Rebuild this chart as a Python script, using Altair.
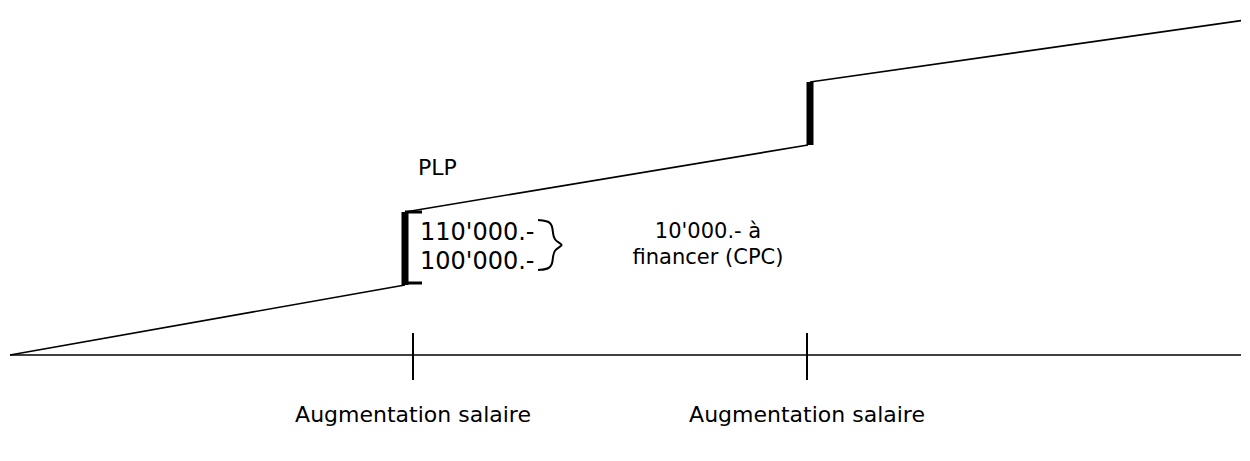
import altair as alt
import pandas as pd

# Schematic "capital" curve (x = time units, y = capital units above the time axis)
seg_x0 = [10, 405, 810]
seg_y0 = [0, 143, 273]
seg_x1 = [405, 808, 1245]
seg_y1 = [70, 210, 335]

# jumps of capital at each salary raise
jump_x = [405, 810]
jump_lo = [70, 210]
jump_hi = [143, 273]

# bracket feet around the first jump
foot_x0 = [405, 405]
foot_x1 = [422, 422]
foot_y = [143, 72]

# time axis and salary-raise ticks
axis_x0 = [10]
axis_x1 = [1245]
tick_x = [413, 807]
tick_lo = [-25, -25]
tick_hi = [22, 22]

# curly brace next to the amounts
brace_x = [538, 550, 553, 553, 566, 553, 553, 550, 538]
brace_y = [135, 134, 127, 114, 110, 106, 93, 86, 85]
brace_order = list(range(len(brace_x)))

# labels
amount_labels = ["110'000.-", "100'000.-"]
amount_x = [420, 420]
amount_y = [122, 93]

note_labels = ["10'000.- à", "financer (CPC)"]
note_x = [708, 708]
note_y = [123, 97]

plp_label = ["PLP"]
plp_x = [418]
plp_y = [187]

raise_labels = ["Augmentation salaire", "Augmentation salaire"]
raise_x = [413, 807]
raise_y = [-60, -60]

FONT = "DejaVu Sans"
xs = alt.Scale(domain=[8, 1241], nice=False, zero=False)
ys = alt.Scale(domain=[-97, 347], nice=False, zero=False)
X = lambda f: alt.X(f, type="quantitative", scale=xs, axis=None)
Y = lambda f: alt.Y(f, type="quantitative", scale=ys, axis=None)

seg_df = pd.DataFrame({"x0": seg_x0, "y0": seg_y0, "x1": seg_x1, "y1": seg_y1})
segs = alt.Chart(seg_df).mark_rule(color="black", strokeWidth=1.6).encode(
    x=X("x0"), y=Y("y0"), x2="x1", y2="y1")

jump_df = pd.DataFrame({"x": jump_x, "lo": jump_lo, "hi": jump_hi})
jumps = alt.Chart(jump_df).mark_rule(color="black", strokeWidth=7).encode(
    x=X("x"), y=Y("lo"), y2="hi")

foot_df = pd.DataFrame({"x0": foot_x0, "x1": foot_x1, "y": foot_y})
feet = alt.Chart(foot_df).mark_rule(color="black", strokeWidth=3).encode(
    x=X("x0"), x2="x1", y=Y("y"))

axis_df = pd.DataFrame({"x0": axis_x0, "x1": axis_x1, "y": [0]})
axis = alt.Chart(axis_df).mark_rule(color="black", strokeWidth=1.6).encode(
    x=X("x0"), x2="x1", y=Y("y"))

tick_df = pd.DataFrame({"x": tick_x, "lo": tick_lo, "hi": tick_hi})
ticks = alt.Chart(tick_df).mark_rule(color="black", strokeWidth=2).encode(
    x=X("x"), y=Y("lo"), y2="hi")

brace_df = pd.DataFrame({"x": brace_x, "y": brace_y, "o": brace_order})
brace = alt.Chart(brace_df).mark_line(color="black", strokeWidth=2, interpolate="basis").encode(
    x=X("x"), y=Y("y"), order="o")

amt_df = pd.DataFrame({"t": amount_labels, "x": amount_x, "y": amount_y})
amounts = alt.Chart(amt_df).mark_text(align="left", baseline="middle", font=FONT, fontSize=24,
                                       color="black").encode(x=X("x"), y=Y("y"), text="t")

note_df = pd.DataFrame({"t": note_labels, "x": note_x, "y": note_y})
notes = alt.Chart(note_df).mark_text(align="center", baseline="middle", font=FONT, fontSize=21,
                                     color="black").encode(x=X("x"), y=Y("y"), text="t")

plp_df = pd.DataFrame({"t": plp_label, "x": plp_x, "y": plp_y})
plp = alt.Chart(plp_df).mark_text(align="left", baseline="middle", font=FONT, fontSize=22,
                                  color="black").encode(x=X("x"), y=Y("y"), text="t")

raise_df = pd.DataFrame({"t": raise_labels, "x": raise_x, "y": raise_y})
raises = alt.Chart(raise_df).mark_text(align="center", baseline="middle", font=FONT, fontSize=22,
                                       color="black").encode(x=X("x"), y=Y("y"), text="t")

chart = alt.layer(axis, ticks, segs, jumps, feet, brace, amounts, notes, plp, raises).properties(
    width=1233, height=444, padding=0, autosize=alt.AutoSizeParams(type="none")
).configure_view(strokeOpacity=0, strokeWidth=0)

chart.save("out.html", embed_options={"renderer": "svg", "actions": False})
